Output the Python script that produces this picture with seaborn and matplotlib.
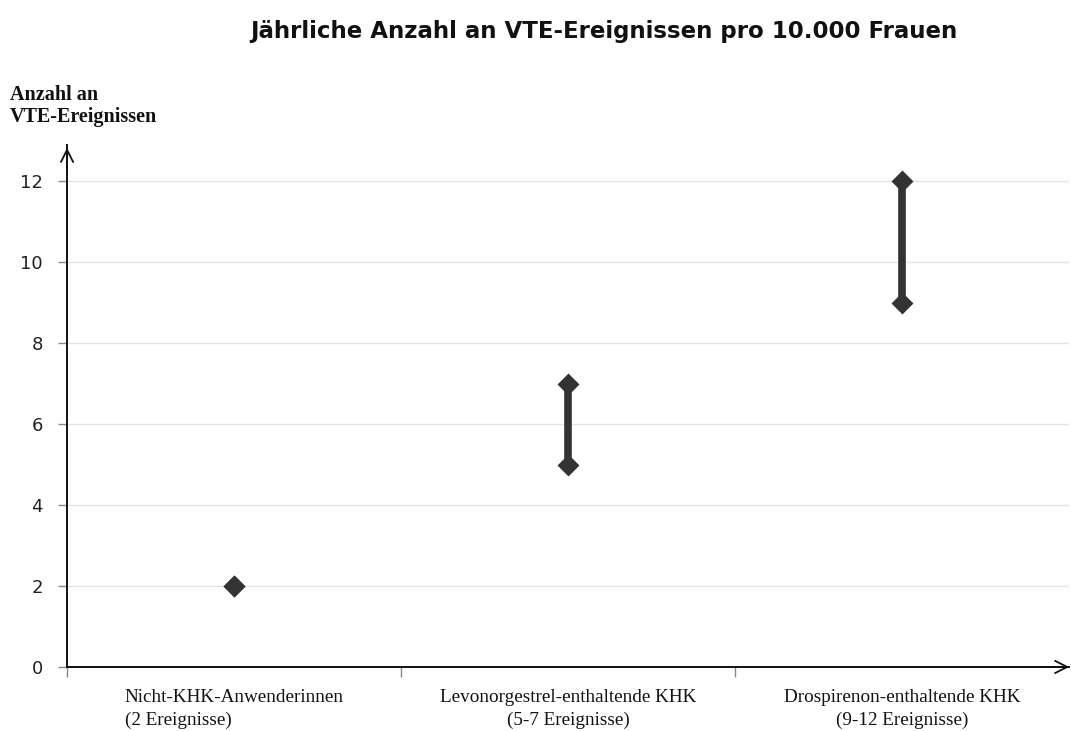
import pandas as pd
import matplotlib.pyplot as plt
import matplotlib.transforms as mtransforms
import seaborn as sns

# Data
categories = ['Nicht-KHK-Anwenderinnen\n(2 Ereignisse)',
              'Levonorgestrel-enthaltende KHK\n(5-7 Ereignisse)',
              'Drospirenon-enthaltende KHK\n(9-12 Ereignisse)']
low = [2, 5, 9]
high = [2, 7, 12]
y_ticks = [0, 2, 4, 6, 8, 10, 12]

df = pd.DataFrame({
    'Gruppe': categories * 2,
    'Ereignisse': low + high,
})

sns.set_style('white')
plt.rcParams['font.family'] = ['DejaVu Sans']

fig = plt.figure(figsize=(10.71, 7.31), dpi=100)
ax = fig.add_axes([0.0626, 0.0876, 0.9356, 0.714])

ink = '#333333'

# range bars
ax.vlines(categories, low, high, color=ink, lw=5.5, zorder=3)
# end points
sns.scatterplot(data=df, x='Gruppe', y='Ereignisse', marker='D', s=125,
                color=ink, edgecolor=ink, linewidth=0, zorder=4, ax=ax)

ax.set_xlim(-0.5, 2.5)
ax.set_ylim(0, 12.9)
ax.set_yticks(y_ticks)
ax.set_yticklabels([str(v) for v in y_ticks], fontsize=13, color='#222222')
ax.tick_params(axis='y', length=6.5, width=1, color='#888888', left=True, pad=11)

# category labels at centers, boundary ticks as minor ticks
ax.set_xticks([0, 1, 2])
ax.set_xticklabels(categories, fontsize=13.8, family=['Liberation Serif'],
                   color='#111111', linespacing=1.4)
first = ax.get_xticklabels()[0]
first.set_multialignment('left')
first.set_transform(first.get_transform() +
                    mtransforms.ScaledTranslation(-0.2, 0, fig.dpi_scale_trans))
ax.tick_params(axis='x', which='major', length=0, pad=16)
ax.set_xticks([-0.5, 0.5, 1.5], minor=True)
ax.tick_params(axis='x', which='minor', length=7, width=1, color='#888888',
               direction='out', bottom=True)

ax.set_xlabel('')
ax.set_ylabel('')

# gridlines
for v in y_ticks[1:]:
    ax.axhline(v, color='#e4e4e4', lw=1, zorder=0)

for s in ['top', 'right']:
    ax.spines[s].set_visible(False)
ax.spines['left'].set_color('#111111')
ax.spines['bottom'].set_color('#111111')
ax.spines['left'].set_linewidth(1.4)
ax.spines['bottom'].set_linewidth(1.4)

# open arrow heads on axes
ax.annotate('', xy=(0, 1.0), xytext=(0, 0.95), xycoords='axes fraction',
            arrowprops=dict(arrowstyle='->', lw=1.3, color='#111111',
                            mutation_scale=22))
ax.annotate('', xy=(1.003, 0), xytext=(0.97, 0), xycoords='axes fraction',
            arrowprops=dict(arrowstyle='->', lw=1.3, color='#111111',
                            mutation_scale=22))

fig.text(0.009, 0.826, 'Anzahl an\nVTE-Ereignissen', family=['Liberation Serif'],
         fontweight='bold', fontsize=14.5, ha='left', va='bottom',
         linespacing=1.12, color='#111111')

fig.text(0.564, 0.972, 'Jährliche Anzahl an VTE-Ereignissen pro 10.000 Frauen',
         fontsize=16.5, fontweight='bold', ha='center', va='top', color='#111111')

fig.savefig('out.png', dpi=100)
